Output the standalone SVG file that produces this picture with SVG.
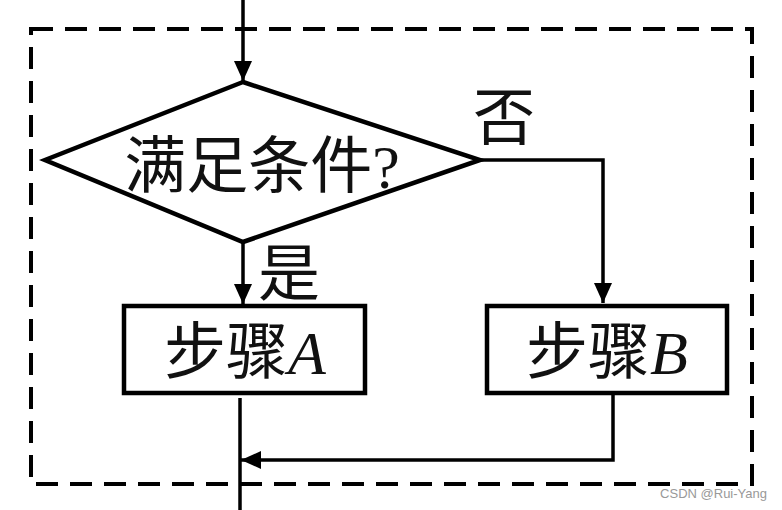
<svg xmlns="http://www.w3.org/2000/svg" width="782" height="510" viewBox="0 0 782 510">
<style>
.ln{fill:none;stroke:#000;stroke-width:3.5}
.nd{fill:#fff;stroke:#000;stroke-width:4.5}
.t{font-family:"Liberation Serif","Noto Sans CJK SC",serif;fill:#111;font-size:62px}
.it{font-style:italic}
</style>
<defs>
<marker id="a" viewBox="0 0 20 20" refX="20" refY="10" markerWidth="20" markerHeight="20" markerUnits="userSpaceOnUse" orient="auto">
<path d="M0,1 L20,10 L0,19 Z" fill="#000"/>
</marker>
</defs>
<rect id="frame" x="31" y="29" width="721" height="455" fill="none" stroke="#000" stroke-width="4" stroke-dasharray="22,12"/>
<g id="connectors">
<line class="ln" x1="243" y1="0" x2="243" y2="81" marker-end="url(#a)"/>
<polyline class="ln" points="478,160 603,160 603,303" marker-end="url(#a)"/>
<line class="ln" x1="243" y1="242" x2="243" y2="304" marker-end="url(#a)"/>
<line class="ln" x1="240" y1="398" x2="240" y2="510"/>
<polyline class="ln" points="613,393 613,460 241,460" marker-end="url(#a)"/>
</g>
<g id="decision">
<polygon class="nd" points="243,82 45,160 243,242 480,160"/>
<text class="t" x="262" y="188" text-anchor="middle" font-size="68">满足条件?</text>
</g>
<g id="label-no"><text class="t" x="504" y="140" text-anchor="middle">否</text></g>
<g id="label-yes"><text class="t" x="289" y="296" text-anchor="middle">是</text></g>
<g id="stepA">
<rect class="nd" x="124" y="306" width="241" height="87"/>
<text class="t" x="245" y="374" text-anchor="middle">步骤<tspan class="it">A</tspan></text>
</g>
<g id="stepB">
<rect class="nd" x="487" y="306" width="240" height="87"/>
<text class="t" x="607" y="374" text-anchor="middle">步骤<tspan class="it">B</tspan></text>
</g>
<text x="767" y="498" text-anchor="end" font-family="Liberation Sans,Arial,sans-serif" font-size="13" fill="#999">CSDN @Rui-Yang</text>
</svg>
